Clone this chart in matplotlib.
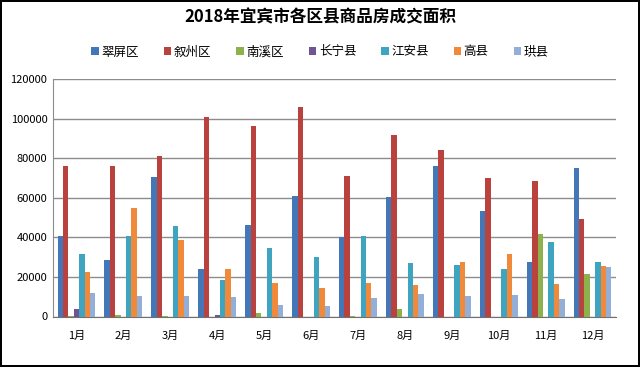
import numpy as np
import matplotlib
matplotlib.use("Agg")
from matplotlib import pyplot as plt

plt.rcParams['font.family'] = ['Noto Sans CJK SC', 'DejaVu Sans']

months = ['1月', '2月', '3月', '4月', '5月', '6月', '7月', '8月', '9月', '10月', '11月', '12月']
names = ['翠屏区', '叙州区', '南溪区', '长宁县', '江安县', '高县', '珙县']
cuiping  = [40800, 28700, 70500, 24200, 46400, 60900, 40300, 60400, 76000, 53300, 27700, 75000]
xuzhou   = [76000, 76000, 81000, 101000, 96000, 105600, 71000, 91500, 84100, 70000, 68400, 49200]
nanxi    = [500, 1000, 500, 0, 1600, 0, 300, 3600, 0, 0, 41800, 21600]
changning = [3800, 0, 0, 1000, 0, 0, 0, 0, 0, 0, 0, 0]
jiangan  = [31700, 40800, 45900, 18300, 34700, 30200, 40800, 26900, 26200, 23800, 37500, 27400]
gaoxian  = [22300, 55000, 38600, 24200, 16800, 14200, 16800, 15800, 27500, 31700, 16300, 25700]
gongxian = [11700, 10200, 10200, 9700, 5600, 5100, 9200, 11200, 10400, 11000, 8700, 25200]
colors = ['#4377B8', '#B9413E', '#8DB24C', '#6F5596', '#3FA4BF', '#F08A3A', '#93AFD8']

series = [cuiping, xuzhou, nanxi, changning, jiangan, gaoxian, gongxian]

fig = plt.figure(figsize=(6.4, 3.67), dpi=100)
fig.patch.set_edgecolor('black')
fig.patch.set_linewidth(1.5)
ax = fig.add_axes([53/640, 1 - 316.5/367, 563/640, 237.5/367])

x = np.arange(len(months))
w = 0.115
for i, (vals, name, c) in enumerate(zip(series, names, colors)):
    ax.bar(x + (i - 3) * w, vals, w, color=c, label=name, zorder=3)

ax.set_xlim(-0.5, 11.5)
ax.set_ylim(0, 120000)
ax.set_yticks(range(0, 120001, 20000))
ax.set_xticks(x)
ax.set_xticklabels(months, fontsize=8)
ax.tick_params(axis='y', labelsize=8, length=0, pad=4)
ax.tick_params(axis='x', length=0, pad=10)
ax.grid(axis='y', color='#8c8c8c', linewidth=1, zorder=0)
for s in ['top', 'right']:
    ax.spines[s].set_visible(False)
ax.spines['left'].set_color('#8c8c8c')
ax.spines['bottom'].set_color('#707070')

fig.text(0.5, 1 - 17/367, '2018年宜宾市各区县商品房成交面积', ha='center', va='center',
         fontsize=12, fontweight='bold')
fig.legend(loc='center', bbox_to_anchor=(0.5, 1 - 52/367), ncol=7, frameon=False,
           fontsize=9, handlelength=0.6, handleheight=0.6, handletextpad=0.2,
           columnspacing=2.0)

fig.savefig('out.png', dpi=100)
